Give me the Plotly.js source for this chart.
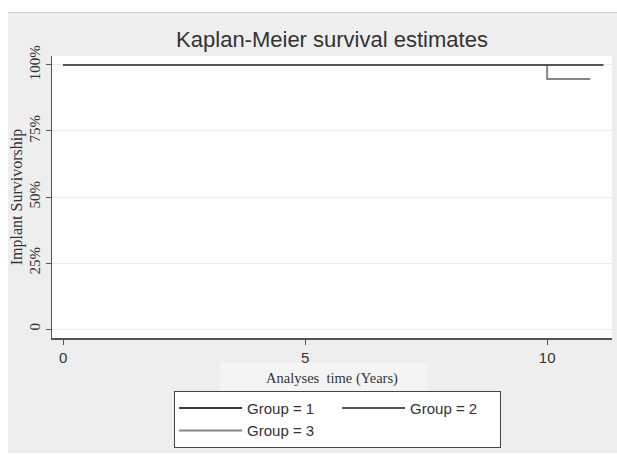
<!DOCTYPE html>
<html>
<head>
<meta charset="utf-8">
<script src="https://cdn.plot.ly/plotly-3.0.1.min.js"></script>
<style>
  html, body { margin: 0; padding: 0; background: #ffffff; width: 617px; height: 455px; overflow: hidden; }
  #chart { position: absolute; left: 8px; top: 12px; width: 609px; height: 440px; border-top: 1px solid #c9c9c9; box-sizing: border-box; }
</style>
</head>
<body>
<div id="chart"></div>
<script>
// Kaplan-Meier step data (time in years, survival as fraction)
var groupNames = ["Group = 1", "Group = 2", "Group = 3"];
var group1Time = [0, 11.16];
var group1Surv = [1, 1];
var group2Time = [0, 11.16];
var group2Surv = [1, 1];
var group3Time = [0, 10, 10.89];
var group3Surv = [1, 0.947, 0.947];
var yTickVals = [0, 0.25, 0.5, 0.75, 1];
var yTickText = ["0", "25%", "50%", "75%", "100%"];
var xTickVals = [0, 5, 10];

var traces = [
  { x: group3Time, y: group3Surv, name: groupNames[2], mode: "lines", line: { shape: "hv", color: "#858585", width: 2 }, legendgroup: "a", legendrank: 3 },
  { x: group1Time, y: group1Surv, name: groupNames[0], mode: "lines", line: { shape: "hv", color: "#3c3c3c", width: 2 }, legendgroup: "a", legendrank: 1 },
  { x: group2Time, y: group2Surv, name: groupNames[1], mode: "lines", line: { shape: "hv", color: "#555555", width: 2 }, legendgroup: "b", legendrank: 2 }
];

var layout = {
  width: 609, height: 440,
  margin: { l: 44, r: 5, t: 43, b: 113 },
  paper_bgcolor: "#eeeeee",
  plot_bgcolor: "#ffffff",
  font: { family: "Liberation Sans, Arial, sans-serif", color: "#333333" },
  title: { text: "Kaplan-Meier survival estimates", font: { size: 22, color: "#333333", family: "Liberation Sans, Arial, sans-serif" }, x: 0.5, xref: "paper", xanchor: "center", y: 0.94, yref: "container", yanchor: "middle" },
  showlegend: true,
  legend: {
    orientation: "h", traceorder: "grouped", x: 0.218, xanchor: "left", y: -0.187, yanchor: "top",
    bgcolor: "#ffffff", bordercolor: "#444444", borderwidth: 1,
    font: { size: 15, color: "#333333", family: "Liberation Sans, Arial, sans-serif" },
    itemwidth: 63, entrywidth: 85, entrywidthmode: "pixels"
  },
  shapes: [
    { type: "rect", xref: "paper", yref: "paper", x0: 0.3, x1: 0.67, y0: -0.088, y1: -0.19, fillcolor: "#f4f4f4", line: { width: 0 }, layer: "below" }
  ],
  xaxis: {
    range: [-0.23, 11.34], tickvals: xTickVals, ticks: "outside", ticklen: 5, tickcolor: "#555555",
    showline: true, linecolor: "#555555", linewidth: 1.5, showgrid: false, zeroline: false,
    tickfont: { size: 15, color: "#333333", family: "Liberation Sans, Arial, sans-serif" },
    title: { text: "Analyses\u00a0 time (Years)", font: { size: 14.5, color: "#333333", family: "Liberation Serif, Times New Roman, serif" }, standoff: 8 }
  },
  yaxis: {
    range: [-0.034, 1.034], tickvals: yTickVals, ticktext: yTickText, tickangle: -90,
    ticks: "outside", ticklen: 5, tickcolor: "#555555",
    showline: true, linecolor: "#555555", linewidth: 1.5,
    showgrid: true, gridcolor: "#ebebeb", gridwidth: 1, zeroline: false,
    tickfont: { size: 15, color: "#333333", family: "Liberation Serif, Times New Roman, serif" },
    title: { text: "Implant Survivorship", font: { size: 16, color: "#333333", family: "Liberation Serif, Times New Roman, serif" }, standoff: 2 }
  }
};

Plotly.newPlot("chart", traces, layout, { displayModeBar: false, staticPlot: true });
</script>
</body>
</html>
